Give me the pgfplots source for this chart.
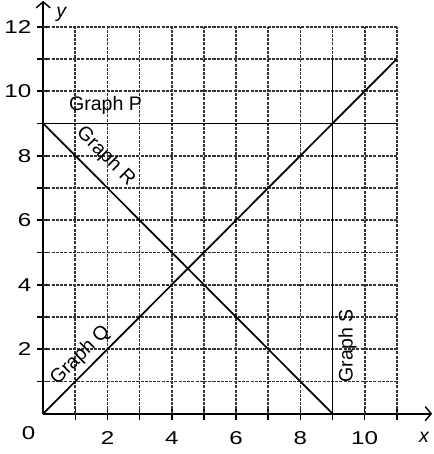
\documentclass[border=0pt]{standalone}
\usepackage{fontspec}
\setmainfont{Liberation Sans}
\usepackage{pgfplots}
\pgfplotsset{compat=1.18}
\usetikzlibrary{arrows.meta}
\begin{document}
\begin{tikzpicture}
\begin{axis}[
  x=31.9bp, y=32bp,
  axis lines=middle,
  xmin=0, xmax=12.1, ymin=0, ymax=12.8,
  xtick={1,...,11}, ytick={1,...,12},
  xticklabels={,2,,4,,6,,8,,10,},
  yticklabels={,2,,4,,6,,8,,10,,12},
  major tick length=12bp,
  tick style={line width=1.6bp, black},
  axis line style={line width=1.8bp, -{Straight Barb[length=6bp,width=14bp,line width=1.4bp]}},
  /pgf/number format/assume math mode=true,
  tick label style={font=\fontsize{18.5}{20}\selectfont, xscale=1.3},
  xticklabel style={anchor=north, yshift=-8bp},
  yticklabel style={anchor=east, xshift=-1bp},
  clip=false,
]
\pgfplotsinvokeforeach{1,...,11}{\draw[line width=1.7bp, dash pattern=on 3bp off 1.2bp, black!80] (axis cs:#1,0) -- (axis cs:#1,12);}
\pgfplotsinvokeforeach{1,...,12}{\draw[line width=1.7bp, dash pattern=on 3bp off 1.2bp, black!80] (axis cs:0,#1) -- (axis cs:11,#1);}
\addplot[black, line width=1.7bp] coordinates {(0,9) (11,9)};
\addplot[black, line width=1.7bp] coordinates {(0,0) (11,11)};
\addplot[black, line width=1.7bp] coordinates {(0,9) (9,0)};
\addplot[black, line width=1.7bp] coordinates {(9,0) (9,11)};
\node[font=\fontsize{19.5}{21}\selectfont] at (axis cs:1.94,9.56) {Graph P};
\node[font=\fontsize{19.5}{21}\selectfont, rotate=-45] at (axis cs:1.94,7.98) {Graph R};
\node[font=\fontsize{19.5}{21}\selectfont, rotate=45] at (axis cs:1.16,1.81) {Graph Q};
\node[font=\fontsize{19.5}{21}\selectfont, rotate=90] at (axis cs:9.47,2.1) {Graph S};
\node[font=\fontsize{18.5}{20}\selectfont, xscale=1.3] at (axis cs:-0.45,-0.6) {0};
\node[font=\fontsize{19.5}{21}\itshape] at (axis cs:11.85,-0.72) {x};
\node[font=\fontsize{19.5}{21}\itshape] at (axis cs:0.56,12.38) {y};
\path (axis cs:0,-1.25);
\end{axis}
\end{tikzpicture}
\end{document}
